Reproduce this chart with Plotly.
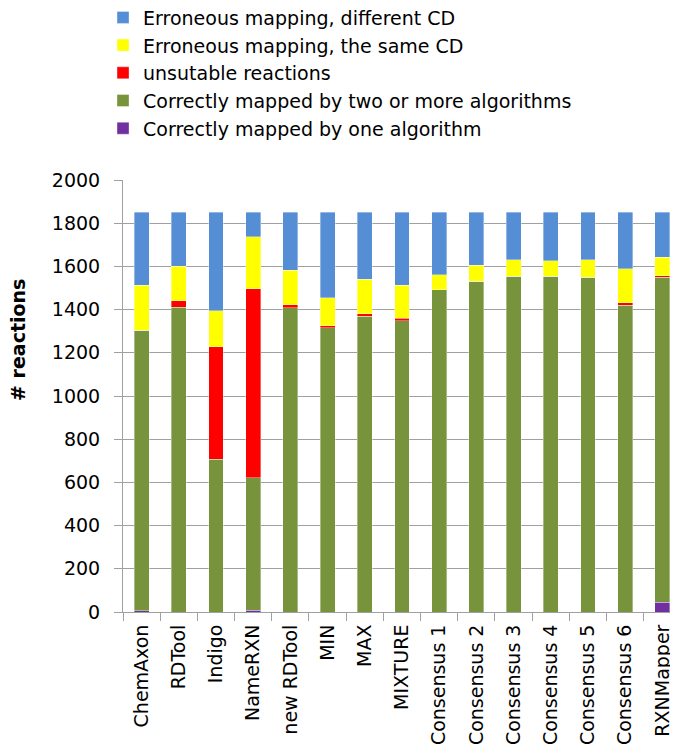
import plotly.graph_objects as go

categories = ["ChemAxon", "RDTool", "Indigo", "NameRXN", "new RDTool", "MIN", "MAX",
              "MIXTURE", "Consensus 1", "Consensus 2", "Consensus 3", "Consensus 4",
              "Consensus 5", "Consensus 6", "RXNMapper"]

one_algorithm = [5, 0, 0, 7, 0, 0, 0, 0, 0, 0, 0, 0, 0, 0, 46]
two_or_more = [1300, 1412, 708, 615, 1409, 1317, 1369, 1348, 1492, 1531, 1554, 1554, 1549, 1420, 1503]
unsuitable = [0, 29, 521, 875, 13, 9, 11, 11, 0, 0, 0, 0, 0, 11, 8]
same_cd = [207, 159, 165, 240, 160, 129, 160, 153, 70, 74, 77, 72, 82, 157, 86]
different_cd = [338, 250, 456, 113, 268, 395, 310, 338, 288, 245, 219, 224, 219, 262, 207]

series = [
    ("Correctly mapped by one algorithm", one_algorithm, "#7030A0"),
    ("Correctly mapped by two or more algorithms", two_or_more, "#77933C"),
    ("unsutable reactions", unsuitable, "#FF0000"),
    ("Erroneous mapping, the same CD", same_cd, "#FFFF00"),
    ("Erroneous mapping, different CD", different_cd, "#558ED5"),
]

fig = go.Figure()
for name, vals, color in series:
    fig.add_trace(go.Bar(x=categories, y=vals, name=name,
                         marker=dict(color=color, line=dict(color="rgba(255,255,255,0.6)", width=0.6))))

font_family = "DejaVu Sans, Liberation Sans, Arial, sans-serif"
fig.update_layout(
    width=670, height=748,
    barmode="stack", bargap=0.6,
    plot_bgcolor="white", paper_bgcolor="white",
    margin=dict(l=115, r=0, t=172, b=144, autoexpand=False),
    font=dict(family=font_family, size=20, color="black"),
    legend=dict(traceorder="reversed", xref="paper", yref="paper",
                x=-0.036, y=1.42, xanchor="left", yanchor="top",
                font=dict(size=19), itemwidth=30, tracegroupgap=0,
                bgcolor="rgba(0,0,0,0)"),
    showlegend=True,
    annotations=[dict(text="<b># reactions</b>", textangle=-90, xref="paper", yref="paper",
                      x=-0.189, y=0.63, xanchor="center", yanchor="middle", showarrow=False,
                      font=dict(size=19))],
)
fig.update_yaxes(range=[0, 2000], dtick=200, showgrid=True, gridcolor="#A0A0A0", gridwidth=1,
                 showline=True, linecolor="#A0A0A0", linewidth=1, ticks="outside", ticklen=8,
                 tickcolor="#A0A0A0", tickfont=dict(size=19), zeroline=False,
                 ticklabelstandoff=10)
fig.update_xaxes(range=[-0.5, 14.42], showline=True, linecolor="#A0A0A0", linewidth=1,
                 ticks="outside", ticklen=8, tickcolor="#A0A0A0", tickson="boundaries",
                 tickangle=-90, tickfont=dict(size=19), ticklabelstandoff=4)

fig.write_html("out.html")
